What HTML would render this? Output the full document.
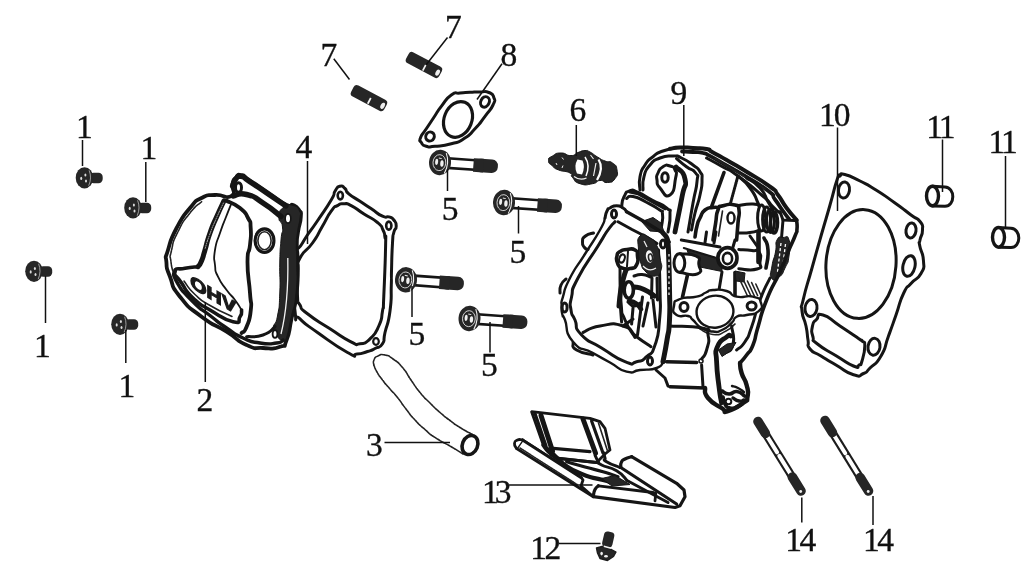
<!DOCTYPE html>
<html>
<head>
<meta charset="utf-8">
<title>Cylinder head assembly</title>
<style>
html,body{margin:0;padding:0;background:#fff;}
body{width:1028px;height:585px;overflow:hidden;font-family:"Liberation Serif",serif;}
svg{display:block;position:absolute;left:0;top:0;filter:grayscale(1);}
.o{fill:none;stroke:#151515;stroke-width:3;stroke-linecap:round;stroke-linejoin:round;}
.w{fill:#fff;stroke:#151515;stroke-width:3;stroke-linecap:round;stroke-linejoin:round;}
.t{fill:none;stroke:#222;stroke-width:1.6;stroke-linecap:round;stroke-linejoin:round;}
.k{fill:none;stroke:#151515;stroke-width:4.2;stroke-linecap:round;stroke-linejoin:round;}
.d{fill:#262626;stroke:#151515;stroke-width:1;stroke-linejoin:round;}
.l{fill:none;stroke:#111;stroke-width:1.5;}
.n{font-family:"Liberation Serif",serif;font-size:33.5px;fill:#111;stroke:#111;stroke-width:0.35;}
</style>
</head>
<body>
<svg width="1028" height="585" viewBox="0 0 1028 585">
<rect x="0" y="0" width="1028" height="585" fill="#fff"/>
<defs>
  <!-- small flange bolt (item 1): origin = head centre -->
  <g id="b1">
    <rect x="5" y="-4.800" width="13.200" height="10.600" rx="4.200" fill="#262626"/>
    <ellipse cx="0" cy="0.300" rx="8.800" ry="10.600" fill="#262626"/>
    <path d="M4.600 -7.200Q7.600 0.300 4.200 8.200" stroke="#bbb" stroke-width="0.8" fill="none"/>
    <ellipse cx="-3.300" cy="0.900" rx="1" ry="1.700" fill="#ddd"/>
    <ellipse cx="0.900" cy="-2.500" rx="1" ry="1.600" fill="#ddd"/>
    <ellipse cx="1.500" cy="3.600" rx="1" ry="1.500" fill="#ddd"/>
  </g>
  <!-- long flange bolt (item 5): origin = head centre, total length param by use -->
  <g id="b5" transform="rotate(4)">
    <rect x="9" y="-4.700" width="28" height="9.600" fill="#fff" stroke="#151515" stroke-width="2.6"/>
    <rect x="35" y="-6.700" width="23" height="13.600" rx="6" fill="#262626"/>
    <rect x="33.500" y="-6.700" width="10" height="13.600" fill="#262626"/>
    <ellipse cx="0" cy="0" rx="11" ry="12.700" fill="#262626"/>
    <path d="M5.600 -9.800Q10 0 5 10.600" stroke="#f0f0f0" stroke-width="1.100" fill="none"/>
    <ellipse cx="-0.600" cy="0.200" rx="6.400" ry="8" fill="none" stroke="#ddd" stroke-width="0.9"/>
    <ellipse cx="-3.400" cy="-0.400" rx="1.500" ry="3.100" fill="#f0f0f0"/>
    <ellipse cx="2" cy="0.800" rx="1.700" ry="3.300" fill="#f0f0f0"/>
    <path d="M-1.500 -4.500L1.500 -4" stroke="#eee" stroke-width="1" fill="none"/>
  </g>
</defs>

<!-- item 4 gasket -->
<path class="w" d="M340 186.2C343.3 185.3 342.1 186 345 188.5C347.9 191 343.8 189.6 348.8 193.8C353.8 198 352.6 196.3 360 201.2C367.4 206.1 363.5 203.6 371 208.6C378.5 213.6 376.6 213.4 382.5 216.2C388.4 219 385 215.6 388.8 216.9C392.6 218.2 391.3 216.9 393.8 220C396.3 223.1 396.2 222 396.2 226.2C396.2 230.4 395 226.9 393.8 232.5C392.6 238.1 393.3 230.2 392.5 243C391.7 255.8 391.9 257 391.5 271C391.1 285 391.8 271.7 391.3 285C390.8 298.3 392.1 295.2 390 311C387.9 326.8 387.5 321.6 385 332.5C382.5 343.4 385.8 338.5 382.5 343.8C379.2 349.1 380 345.9 375 348.5C370 351.1 373.5 349.7 367.5 351.5C361.5 353.3 363.7 353.7 357 354C350.3 354.3 360.7 359.7 347.5 352.5C334.3 345.3 333.3 343.7 317.5 332.5C301.7 321.3 307.5 326 300 318.8C292.5 311.6 297.3 329.9 295 311C292.7 292.1 290.5 284.7 293 262C295.5 239.3 294.5 256.5 302.5 243C310.5 229.5 307.4 235.8 317 221.5C326.6 207.2 325.2 210.1 331.2 200C337.2 189.9 332.1 195.8 335 191.2C337.9 186.6 336.7 187.1 340 186.2Z"/>
<path class="o" d="M337.5 205.6C341.7 203.1 339.2 203.8 343.8 203.8C348.4 203.8 344.5 202.2 351.2 205.6C357.9 209 355.2 208.4 364 214C372.8 219.6 371.2 217.2 377.5 222.5C383.8 227.8 380.5 225 383 230C385.5 235 384.1 232.2 385 237.5C385.9 242.8 386 226.5 385.6 246C385.2 265.5 384.8 274.3 383.8 296C382.8 317.7 384.2 301 382.5 311C380.8 321 383 316.7 378.8 326C374.6 335.3 376.3 332.9 370 338.8C363.7 344.7 366.7 343 360 343.8C353.3 344.6 360 346.3 350 341.3C340 336.3 344.2 338 330 328.8C315.8 319.6 317.5 321.7 307.5 313.8C297.5 305.9 303.3 310.9 300 305C296.7 299.1 298.2 307.3 297.5 296C296.8 284.7 297.2 283.7 298 271C298.8 258.3 295.2 267.3 300 258C304.8 248.7 305.2 253.3 312.5 243C319.8 232.7 315.8 237.6 322 227C328.2 216.4 326 218.3 331.2 211.2C336.4 204.1 333.3 208.1 337.5 205.6Z"/>
<ellipse class="o" cx="340.3" cy="195.6" rx="2.6" ry="3.8" style="stroke-width:2.6"/>
<ellipse class="o" cx="388.8" cy="225.6" rx="2.6" ry="4" style="stroke-width:2.6"/>
<ellipse class="o" cx="376" cy="341.5" rx="2.8" ry="3.4" style="stroke-width:2.2"/>
<!-- item 2 valve cover -->
<path class="w" d="M231.5 196C237.3 192.3 231 190.2 232.5 184C234 177.8 233 180.5 236 177.5C239 174.5 236.8 174 241.5 175C246.2 176 241.2 174.7 250 180.5C258.8 186.3 255.8 184.3 268 192.5C280.2 200.7 278.2 200.8 286.5 205C294.8 209.2 288.8 203.3 293 205C297.2 206.7 296.4 206 299 210C301.6 214 301.1 209.7 300.8 217C300.5 224.3 299.3 222.7 298 232C296.7 241.3 297 235 296.8 245C296.6 255 297.6 246 297.5 262C297.4 278 298.6 274.3 296.6 293C294.6 311.7 294.9 302.3 291.6 318C288.3 333.7 290.5 330.4 286.6 340C282.7 349.6 287.9 344 280 346.7C272.1 349.4 274.1 348.6 263 348C251.9 347.4 258.7 350.4 246.6 345C234.5 339.6 241.6 341.1 226.6 331.7C211.6 322.3 217.1 328.4 201.6 316.7C186.1 305 190.5 310 180 296.7C169.5 283.4 174.5 288.3 170 276.7C165.5 265.1 167.1 270.9 166.4 262C165.7 253.1 164.6 261.3 168 250C171.4 238.7 169.3 242 176.6 228C183.9 214 181.7 218 190 208C198.3 198 193.3 202.3 201.6 198C209.9 193.7 205 195.7 215 195C225 194.3 225.7 199.7 231.5 196Z" style="stroke-width:3.8"/>
<path class="d" d="M284 207C288.7 203.2 287.8 204.2 293 205.5C298.2 206.8 297.2 206.8 299.5 211C301.8 215.2 300.7 211 300 218C299.3 225 298.7 223 297.5 232C296.3 241 296.5 235 296.3 245C296.1 255 296.9 246 296.8 262C296.7 278 297.9 274.3 296 293C294.1 311.7 294.3 302.7 291 318C287.7 333.3 288.7 331.3 286 339C283.3 346.7 286 342 283 341C280 340 280.2 340.3 277 336C273.8 331.7 273.3 334.7 273.5 328C273.7 321.3 275.4 327.7 277.5 316C279.6 304.3 279 311 279.8 293C280.6 275 279.4 279.7 279.8 262C280.2 244.3 280.1 251.7 281 240C281.9 228.3 283.2 234.7 282.5 227C281.8 219.3 278.5 223.7 279 217C279.5 210.3 279.3 210.8 284 207Z"/>
<path d="M287.800 258C288.400 290 286.500 312 281 334" stroke="#f4f4f4" stroke-width="1.300" fill="none"/>
<path class="o" d="M233 196C237.5 195.5 236.6 192.2 246.6 194.5C256.6 196.8 251.5 195.7 263 203C274.5 210.3 275 212 281 216.5" style="stroke-width:5.4"/>
<path class="o" d="M232.5 186C233.5 183.8 232.7 182.7 235.5 179.5C238.3 176.3 236.3 175.8 241 176.5C245.7 177.2 240.7 175.8 249.5 181.5C258.3 187.2 255.3 185.4 267.5 193.6C279.7 201.8 279.8 201.9 286 206" style="stroke-width:5.2"/>
<path class="t" d="M201.6 201.7C197.7 205.5 197.9 203 190 213C182.1 223 184.1 219.4 178 231.7C171.9 244 173.9 239.9 171.6 250C169.3 260.1 170 253.3 171 262C172 270.7 173.3 271.3 174.5 276" stroke-dasharray="2 0.8"/>
<path class="o" d="M224 200.8C221.7 205.9 221.7 205.3 217 216C212.3 226.7 214 221.7 210 233C206 244.3 207.8 240.7 205 250C202.2 259.3 203.8 255.4 201.5 261C199.2 266.6 199.2 264.8 198 266.7" style="stroke-width:5"/>
<path class="t" d="M223.5 203C221 208.3 220.7 208.3 216 219C211.3 229.7 213.2 225 209.5 235C205.8 245 206.5 244.3 205 249" style="stroke:#ddd;stroke-width:0.8" stroke-dasharray="1 1.4"/>
<path class="o" d="M231.6 203C229.7 207.7 229.9 207 226 217C222.1 227 223.7 222 220 233C216.3 244 216.7 239.3 215 250C213.3 260.7 214 256.1 215 265C216 273.9 214.1 268.4 218 276.7C221.9 285 220.9 282.2 226.6 290C232.3 297.8 230 293.3 235 300C240 306.7 239.4 306.7 241.6 310" style="stroke-width:1.8"/>
<path class="o" d="M226.6 200.8C231.1 203.2 232.9 202.3 240 208C247.1 213.7 244.4 211.3 248 218C251.6 224.7 250 219 250.7 228C251.4 237 251.1 233.7 250 245C248.9 256.3 247.5 246 247.5 262C247.5 278 248.9 277 250 293C251.1 309 251.9 298.8 250.8 310C249.7 321.2 249.7 319 246.6 326.7C243.5 334.4 243.3 330.9 241.6 333" style="stroke-width:3.8"/>
<path class="o" d="M175 270C175.5 273.9 170.6 271.1 176.6 281.7C182.6 292.3 181.9 290.4 193 301.7C204.1 313 198.8 306.7 210 315.5C221.2 324.3 215.6 320.5 226.6 328C237.6 335.5 231.9 333 243 338C254.1 343 248.8 341.3 260 343C271.2 344.7 268.9 344 276.6 343C284.3 342 280.9 341 283 340" style="stroke-width:3.4"/>
<path class="o" d="M246.6 336.7C252.1 336.1 253.5 338.3 263 335C272.5 331.7 271 329.5 275 326.7" style="stroke-width:3"/>
<path class="o" d="M198 266.7C193.7 267.2 192.7 266.6 185 268.3C177.3 270 176.1 266.8 175 271.7C173.9 276.6 175.6 274.2 181.6 283C187.6 291.8 183.5 289 193 298C202.5 307 196.7 302.1 210 310C223.3 317.9 223 319.5 233 321.7C243 323.9 237.1 320.6 240 316.7C242.9 312.8 241.1 312.2 241.6 310" style="stroke-width:3.6"/>
<path class="t" d="M184 281C187.7 285.5 186 286.2 195 294.5C204 302.8 198.7 298.7 211 306C223.3 313.3 225 313 232 316.5"/>
<text transform="translate(213 294.5) skewY(31) scale(1.2 1)" text-anchor="middle" y="6" style="font-family:'Liberation Sans',sans-serif;font-weight:bold;font-size:17.5px;fill:#1a1a1a;stroke:#1a1a1a;stroke-width:1.3">OHV</text>
<ellipse class="o" cx="264.5" cy="240.7" rx="9.4" ry="11.8" style="stroke-width:3.2"/>
<ellipse class="t" cx="264.5" cy="240.7" rx="6.6" ry="9"/>
<ellipse class="o" cx="238.5" cy="187.5" rx="3" ry="4.8"/>
<ellipse class="w" cx="288" cy="218.5" rx="2.8" ry="4.6" style="stroke-width:1.6"/>
<ellipse class="w" cx="275" cy="334" rx="2.4" ry="3.8" style="stroke-width:1.8"/>
<!-- item 7 studs -->
<g transform="translate(369 98.2) rotate(28)">
<rect x="-18.8" y="-6.2" width="37.5" height="12.4" rx="3.6" fill="#262626"/>
<path d="M1.500 -1V5.500" stroke="#f4f4f4" stroke-width="1.7" fill="none"/>
<ellipse cx="15.6" cy="0.300" rx="2" ry="3.300" fill="#eee"/>
</g>
<g transform="translate(424 65) rotate(28)">
<rect x="-18.8" y="-6.2" width="37.5" height="12.4" rx="3.6" fill="#262626"/>
<path d="M1.500 -1V5.500" stroke="#f4f4f4" stroke-width="1.7" fill="none"/>
<ellipse cx="15.6" cy="0.300" rx="2" ry="3.300" fill="#eee"/>
</g>
<!-- item 8 -->
<path class="w" d="M451.3 95C457.5 90.6 453.8 93.9 460 93C466.2 92.1 463.3 92.7 470 92.3C476.7 91.9 473.7 91.8 480 91.9C486.3 92 484.2 90.6 488.8 92.5C493.4 94.4 492.4 93.3 493.8 97.5C495.2 101.7 495.9 98.7 493 105C490.1 111.3 491 108.4 485 116.3C479 124.2 482.1 121.3 475 128.8C467.9 136.3 471.7 133.8 463.8 138.8C455.9 143.8 460.9 141.3 451.3 143.8C441.7 146.3 443.3 145.5 435 146.3C426.7 147.1 430.9 147.6 426.3 146.3C421.7 145 423.2 145.4 421.3 142.5C419.4 139.6 418.9 142.1 420.6 137.5C422.3 132.9 421.9 135.5 426.3 128.8C430.7 122.1 428.8 125 433.8 117.5C438.8 110 435.5 113.8 441.3 106.3C447.1 98.8 445.1 99.4 451.3 95Z"/>
<ellipse class="o" cx="458" cy="119.4" rx="13.8" ry="18.4" transform="rotate(22 458 119.4)" style="stroke-width:3.2"/>
<ellipse class="o" cx="485" cy="101.9" rx="4.2" ry="5.4" transform="rotate(25 485 101.9)" style="stroke-width:3"/>
<ellipse class="o" cx="430" cy="136.5" rx="4.2" ry="4.6" transform="rotate(25 430 136.5)" style="stroke-width:3"/>
<!-- item 6 -->
<path class="d" d="M548.5 160.6C548.5 157.3 548.3 158.5 552.5 156C556.7 153.5 554.8 153.1 561 153C567.2 152.9 565.3 155.8 571 155.6C576.7 155.4 573.3 154.2 578 152.5C582.7 150.8 581 150.8 585 150.6C589 150.4 585.8 149.9 590 152C594.2 154.1 592.5 154 597.5 157C602.5 160 600 159 605 161C610 163 608.5 160 612.5 163C616.5 166 616.2 164.8 617 170C617.8 175.2 618.2 174.5 615 178.7C611.8 182.9 612.5 181.9 607.5 182.5C602.5 183.1 605 180.1 600 180.5C595 180.9 599.2 182.6 592.5 183.7C585.8 184.8 586.7 185.8 580 183.7C573.3 181.6 575.8 181.1 572.5 177.5C569.2 173.9 574.6 175.5 570 173C565.4 170.5 564.5 172.3 558.7 170C552.9 167.7 555.9 169.1 552.5 166C549.1 162.9 548.5 163.9 548.5 160.6Z"/>
<path d="M577.500 159.500Q573.500 166 577 173.500L582 174.500Q585.500 167 582.500 160.500Z" fill="#fff"/>
<path d="M585 157Q590.500 165 586 176" stroke="#fff" stroke-width="1.5" fill="none"/>
<path d="M574 176.500Q580 181 586.500 178" stroke="#eee" stroke-width="1.2" fill="none"/>
<path d="M596 163L593.500 176" stroke="#eee" stroke-width="1.2" fill="none"/>
<path d="M598.500 159.500Q604 168 597 180" stroke="#fff" stroke-width="2.2" fill="none"/>
<path d="M590.500 155L593.500 159" stroke="#eee" stroke-width="1.1" fill="none"/>
<path d="M562 157.500L563.500 159.500M556 163L557 165M563 165.500L562 168" stroke="#eee" stroke-width="1" fill="none"/>
<!-- item 11 -->
<path class="w" d="M932.5 186.3L945 187C950 187.3 952.8 192 952.8 196.7C952.8 201.6 950 206.3 945 206.3L932.5 206"/>
<ellipse class="w" cx="932.5" cy="196" rx="6" ry="9.8" style="stroke-width:3.4"/>
<path class="w" d="M998.5 227.6L1011 228.3C1016 228.6 1018.8 233.3 1018.8 238C1018.8 242.9 1016 247.6 1011 247.6L998.5 247.3"/>
<ellipse class="w" cx="998.5" cy="237.3" rx="6" ry="9.8" style="stroke-width:3.4"/>
<!-- item 10 -->
<path class="w" d="M844.8 174.5C851.5 176.2 849.6 175.8 860 181C870.4 186.2 864.3 182.7 876 190C887.7 197.3 883.3 194.7 895 203C906.7 211.3 902.7 208.8 911 215C919.3 221.2 916.2 216.5 920 221.5C923.8 226.5 922.5 223.8 922.5 230C922.5 236.2 920.9 234.7 920 240C919.1 245.3 918.6 239 919.8 246C921 253 923.1 251.8 923.5 261C923.9 270.2 925.2 266 921 273.5C916.8 281 916.8 276.8 911 283.5C905.2 290.2 908.5 283 903.5 293.5C898.5 304 901 300.8 896 315C891 329.2 893.5 322.3 888.5 336C883.5 349.7 887.2 345.3 881 356C874.8 366.7 875.8 362.2 870 368C864.2 373.8 869 371.2 863.5 373.5C858 375.8 862.7 377.6 853.5 374.8C844.3 372 846.8 371.3 836 365C825.2 358.7 829.7 361.3 821 356C812.3 350.7 814.3 354.3 810 349C805.7 343.7 809.3 347.7 808 340C806.7 332.3 808 335.7 806 326C804 316.3 802.8 320.2 802 311C801.2 301.8 800.2 312.8 803.5 298.5C806.8 284.2 806.2 288.8 812 268C817.8 247.2 815 257 821 236C827 215 824.7 223.7 830 205C835.3 186.3 833.7 189.7 837 180C840.3 170.3 837.4 177.8 840 176C842.6 174.2 838.1 172.8 844.8 174.5Z"/>
<ellipse class="o" cx="861" cy="264" rx="35" ry="54.5" transform="rotate(4 861 264)"/>
<ellipse class="o" cx="844" cy="190" rx="5.5" ry="8" transform="rotate(8 844 190)"/>
<ellipse class="o" cx="911" cy="230.5" rx="5" ry="7.5" transform="rotate(8 911 230.5)"/>
<ellipse class="o" cx="909" cy="266" rx="6" ry="10.5" transform="rotate(12 909 266)"/>
<ellipse class="o" cx="811" cy="308" rx="6" ry="8.5" transform="rotate(8 811 308)"/>
<ellipse class="o" cx="874" cy="346.8" rx="6" ry="8.5" transform="rotate(8 874 346.8)"/>
<path class="o" d="M823 315C815.2 312.8 820 315.8 816.5 319.5C813 323.2 813.7 320.2 812.5 326C811.3 331.8 811.3 331 813 337C814.7 343 809.7 337.7 817.5 344C825.3 350.3 824.5 348.7 836.5 356C848.5 363.3 846 363 853.5 366C861 369 856.2 366.7 859 365C861.8 363.3 860.1 367.3 862 361C863.9 354.7 864.8 352.7 864.8 346C864.8 339.3 864.1 343.5 862 341C859.9 338.5 865.8 343.5 858.5 338.5C851.2 333.5 851.8 333.8 840 326C828.2 318.2 830.8 317.2 823 315Z"/>
<!-- item 3 -->
<path class="t" d="M373.8 365C373.9 363.3 372.6 363 374 360C375.4 357 374.3 357.7 378 356C381.7 354.3 380 354 385 355C390 356 387.2 354.8 393 359C398.8 363.2 396.5 360.5 402.5 367.5C408.5 374.5 405.2 371.7 411 380C416.8 388.3 413.7 384.8 420 392.5C426.3 400.2 423.3 396.3 430 403C436.7 409.7 433.3 406.7 440 412.5C446.7 418.3 443.3 415.5 450 420.5C456.7 425.5 452.5 422.8 460 427.5C467.5 432.2 468.3 432.2 472.5 434.5" stroke-dasharray="2.2 0.8"/>
<path class="t" d="M373.8 365C374.9 367.3 374.1 367 377 372C379.9 377 378.2 374.3 382.5 380C386.8 385.7 385 383.2 390 389C395 394.8 392.2 390.8 397.5 397.5C402.8 404.2 400.2 401.5 406 409C411.8 416.5 408.7 413.2 415 420C421.3 426.8 418.3 423.7 425 429.5C431.7 435.3 425.8 431.5 435 437.5C444.2 443.5 443.2 442 452.5 447.5C461.8 453 459.5 451.8 463 454" stroke-dasharray="2.2 0.8"/>
<ellipse class="w" cx="470" cy="445" rx="7.6" ry="9.8" transform="rotate(22 470 445)" style="stroke-width:3.6"/>
<!-- item 13 -->
<path class="w" d="M531.6 411.7L590 418.3L600 421.7L605 428.3L610 450L605 454L596.6 462.5L558.3 458.3L551 451L543.3 445Z" style="stroke-width:2.8"/>
<path class="o" d="M535 413.5L546 446" style="stroke-width:3.2"/>
<path class="o" d="M541 415.5L552.5 451" style="stroke-width:5"/>
<path class="o" d="M583 419L595.5 453" style="stroke-width:5"/>
<path class="o" d="M591.6 421L603 453" style="stroke-width:3.2"/>
<path class="t" d="M598.5 423L607.5 451"/>
<path class="o" d="M553.3 448.3L590 451.7" style="stroke-width:3.2"/>
<path class="o" d="M558.3 458.3L596.6 462.5" style="stroke-width:3.2"/>
<path class="o" d="M522.5 440 L581.6 478"/>
<path class="w" d="M522.5 440L581.6 478L583 480L581 486L593.3 496.7L516.6 448.5Z" style="stroke-width:2.8"/>
<path class="w" d="M516.6 448.5C515.9 446.8 514.2 446.3 514.5 443.5C514.8 440.7 514.8 441.2 517.5 440C520.2 438.8 520.8 440 522.5 440" style="stroke-width:2.8"/>
<path class="t" d="M520 448L577 484.5" stroke-dasharray="2 0.8"/>
<path class="o" d="M543.3 445C545.2 447.3 544.6 447.7 549 452C553.4 456.3 547.4 451.4 556.6 458C565.8 464.6 561.1 464.4 576.6 471.7C592.1 479 587.5 476.2 603 480C618.5 483.8 616.3 482 623 483" style="stroke-width:4.2"/>
<path class="o" d="M566.6 461.7C572.7 463.5 572.9 463.7 585 467C597.1 470.3 592 468.5 603 471.7C614 474.9 613 475 618 476.7" style="stroke-width:3.2"/>
<path class="o" d="M595 455C596 457 595.8 457.7 598 461C600.2 464.3 595.4 461.7 601.6 465C607.8 468.3 608.3 465.8 616.6 470.8C624.9 475.8 623.3 476.9 626.6 480"/>
<path class="o" d="M604 453C604.3 454.7 604.1 455.1 605 458C605.9 460.9 601.6 458.5 606.6 461.7C611.6 464.9 615.5 465.6 620 467.5"/>
<path class="d" d="M601.6 478.5L615 475.5L630 484.5L612 486Z"/>
<path class="o" d="M620.8 467C621 465.3 620.1 464.7 621.5 462C622.9 459.3 621.6 460.8 625 459C628.4 457.2 629.4 457.5 631.6 456.7" style="stroke-width:3.2"/>
<path class="o" d="M631.6 456.7L676.6 483.3L684 490L685 496.7L680 505.8L675 507.5L593.3 496.7" style="stroke-width:3.2"/>
<path class="o" d="M620.8 467.5L676.6 504" style="stroke-width:3.2"/>
<path class="o" d="M627 480.5L668 502.5"/>
<path class="o" d="M593.3 496C593.9 493.8 593.3 492.9 595 489.5C596.7 486.1 597.2 487 598.3 485.8" style="stroke-width:3.2"/>
<path class="o" d="M598.3 485.8L653.3 492.5L655.8 493.3L655 500.8" style="stroke-width:2.8"/>
<!-- item 12 -->
<rect x="-5.200" y="-7.500" width="10.400" height="15.500" rx="3.600" fill="#262626" transform="translate(608.300 539.200) rotate(13)"/>
<path d="M596.500 548L603 546.300L610 548.800L616 552L613.500 556.500L607.500 560.500L600 558.500L597.500 553Z" fill="#262626" stroke="#1c1c1c" stroke-width="1.400" stroke-linejoin="round"/>
<path d="M603.800 546.300L611 548.300" stroke="#f4f4f4" stroke-width="1.500" fill="none"/>
<ellipse cx="601.600" cy="553.600" rx="1.300" ry="1.800" fill="#f0f0f0"/>
<ellipse cx="606" cy="556.200" rx="1.900" ry="1.200" fill="#f0f0f0"/>
<!-- item 14 -->
<path d="M765.3 433.3L792.4 477.1" stroke="#1c1c1c" stroke-width="8.2" stroke-linecap="butt" fill="none"/>
<path d="M766.8 435.7L777.1 452.4M779.3 455.9L791.1 475" stroke="#fff" stroke-width="4" stroke-linecap="round" fill="none"/>
<path d="M758 421.5L765.3 433.3M792.4 477.1L801 491" stroke="#262626" stroke-width="9.6" stroke-linecap="round" fill="none"/>
<circle cx="800.7" cy="491.5" r="1.4" fill="#eee"/>
<path d="M832.4 432.5L860.2 477.6" stroke="#1c1c1c" stroke-width="8.2" stroke-linecap="butt" fill="none"/>
<path d="M833.9 435L845.2 453.3M847.4 456.8L858.9 475.5" stroke="#fff" stroke-width="4" stroke-linecap="round" fill="none"/>
<path d="M825 420.5L832.4 432.5M860.2 477.6L868.5 491" stroke="#262626" stroke-width="9.6" stroke-linecap="round" fill="none"/>
<circle cx="868.2" cy="491.5" r="1.4" fill="#eee"/>
<!-- bolts -->
<use href="#b1" x="84.5" y="177.5"/>
<use href="#b1" x="133" y="207.5"/>
<use href="#b1" x="34" y="271"/>
<use href="#b1" x="120" y="324"/>
<use href="#b5" x="440" y="162.5"/>
<use href="#b5" x="504" y="202.5"/>
<use href="#b5" x="406" y="279.8"/>
<use href="#b5" x="469.5" y="318.5"/>
<!-- item 9 cylinder head -->
<g style="stroke-width:3.1">
<path class="o" d="M640 190C640 185.6 638.3 185 640 176.7C641.7 168.4 640.7 171.7 645 165C649.3 158.3 647 161.4 653 156.7C659 152 655.2 154 663 151C670.8 148 672 148.9 676.5 147.8"/>
<path class="o" d="M670 148.8C673.3 148.4 672.3 147.9 680 147.6C687.7 147.3 684.2 147.5 693 148C701.8 148.5 699.8 147.5 706.5 149C713.2 150.5 705.2 148.2 713 152.5C720.8 156.8 718.8 155.6 730 162C741.2 168.4 733.3 163.5 746.6 171.7C759.9 179.9 759.5 178.9 770 186.7C780.5 194.5 772.5 187.9 778 195C783.5 202.1 780.4 199.7 786.6 208C792.8 216.3 793.3 216 796.6 220" style="stroke-width:4"/>
<path class="o" d="M682 151.5C685.7 151.7 686 151.5 693 152C700 152.5 697.1 151.5 703 153C708.9 154.5 702.6 152.1 710.8 156.4C719 160.7 716.3 159.6 727.5 166C738.7 172.4 731 167.4 744.4 175.6C757.8 183.8 757.6 182.6 767.8 190.6C778 198.6 769.9 192.7 775 199.5C780.1 206.3 778.3 204.5 783 211C787.7 217.5 787 216.3 789 219" style="stroke-width:3.8"/>
<path class="o" d="M706.6 158C711.7 160.8 711.5 160.5 722 166.5C732.5 172.5 724.8 166.5 738 176C751.2 185.5 749.9 184.8 761.6 195C773.3 205.2 766.9 200.7 773 206.7C779.1 212.7 777.7 210.9 780 213"/>
<path class="t" d="M715 158.5L765 189"/>
<path class="o" d="M738 176C742 180 743.3 179 750 188C756.7 197 754.1 194.7 758 203C761.9 211.3 760.4 209.7 761.6 213"/>
<path class="o" d="M746.6 178C751.1 181.3 752.9 180.1 760 188C767.1 195.9 763.7 194.4 768 201.7C772.3 209 771.3 207.2 773 210"/>
<path class="o" d="M780 211.7L783 220L795 220.5"/>
<path class="o" d="M783 220L781.6 237"/>
<path class="o" d="M643 190C643.3 185.6 641.7 185 644 176.7C646.3 168.4 644.7 171.2 650 165C655.3 158.8 652.3 161 660 158C667.7 155 665.8 156 673 156C680.2 156 674.8 155 681.5 158C688.2 161 686.8 160.4 693 165C699.2 169.6 697 166.7 700 171.7C703 176.7 702 172.2 702 180C702 187.8 702.3 184 700 195C697.7 206 697.8 201.3 695 213C692.2 224.7 692.7 224.3 691.5 230"/>
<path class="o" d="M676.5 158.5C679.8 161.2 680.1 161.9 686.5 166.7C692.9 171.5 692.1 168 695.6 173C699.1 178 697.9 171.7 697 181.7C696.1 191.7 696 186.2 693 203C690 219.8 689.7 222.3 688 232"/>
<path class="w" d="M658 173C660 168.6 659 169 663 166.7C667 164.4 666 164.9 670 166C674 167.1 673.1 166 675 170C676.9 174 677.3 169.7 675.6 178C673.9 186.3 675.2 191.7 670 195C664.8 198.3 664.3 193 660 188C655.7 183 657.7 185 657 180C656.3 175 656 177.4 658 173Z"/>
<ellipse class="o" cx="665" cy="177.5" rx="3.2" ry="4.8"/>
<path class="o" d="M676 167C679 171 683 169 685 179C687 189 685.3 179.3 682 197C678.7 214.7 677.3 220.3 675 232" style="stroke-width:4.8"/>
<path class="o" d="M621.6 206.7C622.4 203.4 621.2 202 624 196.7C626.8 191.4 625.3 192.2 630 190.8C634.7 189.4 630.7 189.4 638 192.5C645.3 195.6 642.5 194.8 652 200C661.5 205.2 660.5 203 666.5 208C672.5 213 669.5 207 670 215C670.5 223 668.7 226.3 668 232"/>
<path class="o" d="M630 191.8L638 193.5L665 208.5" style="stroke-width:3.6"/>
<path class="o" d="M626.6 198.5C628.7 197.8 626.5 195.3 633 196.5C639.5 197.7 637.3 197.7 646 202C654.7 206.3 653.5 205.5 659 209.5C664.5 213.5 661.6 208.5 662.5 214C663.4 219.5 661.9 222 661.6 226"/>
<path class="d" d="M641.6 221.6L653 217.5L661 223L664 232L650 231Z"/>
<path class="o" d="M605 218C605.7 215.7 605.3 214.3 607 211C608.7 207.7 606.8 209.7 610 208C613.2 206.3 612.3 205.8 616.6 205.8C620.9 205.8 619.7 206 623 208C626.3 210 625.4 210.5 626.6 211.7"/>
<ellipse class="o" cx="614" cy="214" rx="2.5" ry="4"/>
<path class="o" d="M626.6 211.7L645 222L663 233" style="stroke-width:3.6"/>
<path class="o" d="M618 221.7L632 229.5L646.6 237L657 243.5"/>
<path class="o" d="M605 218C603.3 222 606.7 218 600 230C593.3 242 595 238 585 254C575 270 577.3 263.8 570 278C562.7 292.2 565.8 287.4 563 296.7C560.2 306 561.8 299.9 561.6 306C561.4 312.1 561.4 310.3 562.5 315C563.6 319.7 561.5 311.1 565 320C568.5 328.9 563.7 330.7 573 341.7C582.3 352.7 580.7 346.1 593 353C605.3 359.9 598.8 356.3 610 362.5C621.2 368.7 616.6 369.2 626.6 371.7C636.6 374.2 630 371.2 640 370C650 368.8 648.9 370.8 656.6 368C664.3 365.2 660.9 363.8 663 361.7" style="stroke-width:2.4"/>
<path class="o" d="M663 233C664.5 235.3 665.7 233.7 667.5 240C669.3 246.3 667.8 235.3 668.5 252C669.2 268.7 669.2 267.3 669.5 290C669.8 312.7 670.3 303.3 669.5 320C668.7 336.7 669.2 326.1 667 340C664.8 353.9 664.3 354.5 663 361.7" style="stroke-width:5"/>
<path class="o" d="M615 221.7C612.7 224.5 613.7 221.9 608 230C602.3 238.1 608 230 598 246C588 262 586.8 261.1 578 278C569.2 294.9 573.9 286 571.6 296.7C569.3 307.4 569.9 302.2 571 310C572.1 317.8 571.5 311.7 575 320C578.5 328.3 572.7 325.7 581.6 335C590.5 344.3 587.1 339.1 601.6 348C616.1 356.9 613.3 357.1 625 361.7C636.7 366.3 629.4 363.4 636.6 361.7C643.8 360 640.5 362.3 646.6 356.7C652.7 351.1 650.7 357.2 655 345C659.3 332.8 657.8 338.3 659.5 320C661.2 301.7 660.3 313.3 660 290C659.7 266.7 659 263.3 658.5 250"/>
<ellipse class="o" cx="564.6" cy="307.5" rx="2.5" ry="4.5"/>
<ellipse class="o" cx="663" cy="244" rx="2.5" ry="4"/>
<ellipse class="o" cx="650" cy="361" rx="2.5" ry="4"/>
<path class="o" d="M593.5 233C590.8 234 589.2 233 585.5 236C581.8 239 582.8 238.2 582.5 242C582.2 245.8 582.7 245 584.5 247.5C586.3 250 586.8 248.8 588 249.5"/>
<path class="o" d="M566 279C564.3 281 563 280.3 561 285C559 289.7 560.3 290.3 560 293"/>
<path class="o" d="M573 343C574.2 345.3 569.9 346 576.6 350C583.3 354 587.5 353.3 593 355"/>
<path class="o" d="M583 332.5C588.7 330.3 586.7 328.2 600 326C613.3 323.8 610.8 322.4 623 326C635.2 329.6 627.3 329.8 636.6 336.7C645.9 343.6 646.2 343.4 651 346.7"/>
<path class="o" d="M623 326L633 319"/>
<path class="o" d="M620 268C620.3 279.5 619.3 285.2 621 302.5C622.7 319.8 620.3 308.3 625 320C629.7 331.7 631.7 331.7 635 337.5"/>
<path class="o" d="M642.5 297L637.5 335"/>
<path class="d" d="M640 236C643.8 232 644.3 234.7 650 238C655.7 241.3 653.7 239.3 657 246C660.3 252.7 658.7 250 660 258C661.3 266 662.7 264 661 270C659.3 276 660 275.3 655 276C650 276.7 650.8 276.7 646 272C641.2 267.3 643 269.3 640.5 262C638 254.7 638.7 258.7 638.5 250C638.3 241.3 636.2 240 640 236Z"/>
<ellipse class="o" cx="649.5" cy="256.5" rx="3.6" ry="6.2" transform="rotate(-8 649.5 256.5)" style="fill:#f6f6f6;stroke:none"/>
<ellipse class="o" cx="650.5" cy="257.5" rx="2" ry="3.6" transform="rotate(-8 650.5 257.5)" style="stroke:#262626;stroke-width:1.6"/>
<path d="M643 266Q649 272.500 656 268" stroke="#eee" stroke-width="1.200" fill="none"/>
<path d="M644 241L647 247" stroke="#eee" stroke-width="1.200" fill="none"/>
<path class="w" d="M617 256C617.8 252.2 616.7 253.7 620 251.5C623.3 249.3 622 250 627 249.5C632 249 631.5 247.8 635 250C638.5 252.2 637 251 637.5 256C638 261 639 260.8 636.5 265C634 269.2 634.8 267.5 630 268.5C625.2 269.5 626.2 269.8 622 268C617.8 266.2 619.2 267 617.5 263C615.8 259 616.2 259.8 617 256Z" style="stroke-width:3.6"/>
<ellipse class="o" cx="622" cy="258.5" rx="2.6" ry="4.2" transform="rotate(20 622 258.5)" style="stroke-width:2"/>
<path class="o" d="M628 251.5L627 266.5" style="stroke-width:2"/>
<path class="o" d="M626 270C625 273.3 624.8 272.7 623 280C621.2 287.3 621.8 283.3 620.5 292C619.2 300.7 619.5 301.3 619 306" style="stroke-width:5"/>
<path class="o" d="M634 276C636.7 275.5 636.3 274.2 642 274.5C647.7 274.8 648 276.2 651 277"/>
<path class="o" d="M634.5 287C637.7 287.8 637.3 286.5 644 289.5C650.7 292.5 651 293.8 654.5 296" style="stroke-width:5"/>
<ellipse class="w" cx="628.8" cy="290" rx="4.6" ry="8.2" style="stroke-width:3.6"/>
<path class="o" d="M629 301C631.3 301.8 632 300.8 636 303.5C640 306.2 639.3 307.2 641 309" style="stroke-width:4.600"/>
<path class="o" d="M652 278L651.5 298"/>
<path class="o" d="M657 278L657.5 300"/>
<path class="o" d="M620 301.7L621.6 322"/>
<path class="o" d="M633 308L631.6 324"/>
<path class="o" d="M648 303L643 326"/>
<path class="o" d="M653 300L656 327"/>
<path class="o" d="M628 302C630 303.3 630 305.7 634 306C638 306.3 638 304 640 303"/>
<path d="M669 254V298" stroke="#fff" stroke-width="1.2" stroke-dasharray="2.5 3" fill="none"/>
<path class="o" d="M681.3 240L720 246.9"/>
<path class="d" d="M687 250L715 257.5L722 261.5L722 271.5L700 267L690 258Z"/>
<path class="o" d="M683.8 248L715 257.5" style="stroke-width:2"/>
<path class="w" d="M680 253.8C685.3 254.5 689.7 252.6 696 256C702.3 259.4 698.3 258.1 698.8 264C699.3 269.9 703.8 271 697.5 273.8C691.2 276.6 685.8 272.9 680 272.5"/>
<ellipse class="w" cx="679.4" cy="263" rx="5.4" ry="9.3"/>
<ellipse class="w" cx="727.5" cy="258" rx="9.6" ry="10.3" style="stroke-width:3.8"/>
<ellipse class="w" cx="727.5" cy="258.5" rx="4.6" ry="5.6" style="stroke-width:2.6"/>
<path class="w" d="M738.8 249.4C743.2 249.8 745.3 249.6 752 250.5C758.7 251.4 756.3 248.2 759 252C761.7 255.8 760.7 256.3 760 262C759.3 267.7 764.1 266.7 757 269C749.9 271.3 744.9 268.9 738.8 268.8"/>
<path class="o" d="M758.5 232L758.5 262" style="stroke-width:4.6"/>
<path class="o" d="M735 272.5L735 298" style="stroke-width:3.6"/>
<path class="d" d="M735 271L745 273L744 282L736 281Z"/>
<path class="o" d="M695 237C695.7 233.3 695.3 232.3 697 226C698.7 219.7 697.3 223.3 700 218C702.7 212.7 700.7 213.5 705 210C709.3 206.5 708 208.2 713 207.5C718 206.8 717.7 207.8 720 208" style="stroke-width:3.6"/>
<path class="w" d="M713 240C713.8 234.7 713.8 234 715.5 224C717.2 214 715.5 216.1 718 210C720.5 203.9 717.3 207.5 723 205.8C728.7 204.1 729.7 203.6 735 205C740.3 206.4 738 204 739 210C740 216 738.8 213 738 223C737.2 233 737.1 234.3 736.6 240" style="stroke-width:3.6"/>
<ellipse class="o" cx="731" cy="218" rx="3.5" ry="5.5" style="stroke-width:2.4"/>
<path class="t" d="M722.5 211L718.5 236"/>
<path class="o" d="M736.6 205.8C742.1 205.2 745.2 203.6 753 204C760.8 204.4 757.7 206 760 207"/>
<path class="o" d="M739 233C742.7 232.8 743 233.5 750 232.5C757 231.5 756.7 230.8 760 230"/>
<ellipse class="w" cx="761.6" cy="218" rx="4" ry="13"/>
<ellipse class="o" cx="766.6" cy="219.5" rx="4" ry="12.5"/>
<ellipse class="o" cx="770.5" cy="221" rx="4" ry="11.5"/>
<ellipse class="o" cx="774" cy="222.5" rx="3.5" ry="10.5" style="stroke-width:3.6"/>
<path class="o" d="M724 172.5L711.6 206.7" style="stroke-width:3.6"/>
<path class="o" d="M737.5 177.5L730 205" style="stroke-width:3" stroke-dasharray="1.6 1"/>
<path class="o" d="M687.5 275L682.5 297" style="stroke-width:3.6"/>
<path class="o" d="M716 232L714 243"/>
<path class="o" d="M735 240L733 247"/>
<path class="o" d="M706.5 232L705 242.5"/>
<path class="o" d="M722 272L719 290"/>
<path class="t" d="M739 278L748 297"/>
<path class="t" d="M743.2 279.5L751.2 296.5"/>
<path class="t" d="M747.4 281L754.4 296"/>
<path class="t" d="M751.6 282.5L757.6 295.5"/>
<path class="t" d="M755.8 284L760.8 295"/>
<path class="d" d="M777 240C779.5 235.2 779 237.5 783 237.5C787 237.5 787 233.8 789 240C791 246.2 790.3 246.7 789 256C787.7 265.3 788.3 261 785 268C781.7 275 783.5 273.7 779 277C774.5 280.3 773.8 281.7 771.5 278C769.2 274.3 770.7 274.7 772 266C773.3 257.3 773.8 260.7 775.5 252C777.2 243.3 774.5 244.8 777 240Z"/>
<path d="M781 243L777.500 272M785.500 244L782.500 268" stroke="#fff" stroke-width="1.3" stroke-dasharray="3 2.2" fill="none"/>
<path class="o" d="M764 238C765.3 242 767.3 240 768 250C768.7 260 766.7 262 766 268" style="stroke-width:3.6"/>
<path class="o" d="M750 236 L757 246"/>
<path class="o" d="M796.6 220C796.7 223 797.5 223.7 797 229C796.5 234.3 798 228.3 795 236C792 243.7 793 240.1 788 252C783 263.9 787.1 255.7 780 271.7C772.9 287.7 773.9 281.6 766.6 300C759.3 318.4 762.5 312 758 327C753.5 342 756.8 335.7 753 345C749.2 354.3 750.9 349 746.6 355C742.3 361 742.2 360.3 740 363" style="stroke-width:3.6"/>
<path class="o" d="M740 363C740.5 366.3 739.4 365.7 741.6 373C743.8 380.3 744.6 377.1 746.6 385C748.6 392.9 748.7 390.7 747.5 396.7C746.3 402.7 749.5 398.2 743 403C736.5 407.8 735.1 409.3 728 411C720.9 412.7 728.3 412.3 721.6 408C714.9 403.7 713.5 404.7 708 398C702.5 391.3 706 391.3 705 388" style="stroke-width:4.4"/>
<path class="o" d="M770 278C766.7 285.3 766.1 283.7 760 300C753.9 316.3 756.6 313.1 751.6 327C746.6 340.9 750 334 745 341.7C740 349.4 739.4 347.2 736.6 350"/>
<path class="w" d="M674 306C675.1 300.7 672.5 302.1 680 299C687.5 295.9 687.9 298.9 696.6 296.7C705.3 294.5 700.5 294.7 706 292.5C711.5 290.3 706.1 290.5 713 290C719.9 289.5 718.7 288.8 726.6 291C734.5 293.2 727.8 294.8 736.6 296.7C745.4 298.6 744.9 294.6 753 296.7C761.1 298.8 759.3 298 761 303C762.7 308 762.8 307.7 758 311.7C753.2 315.7 753.7 313.3 746.6 315C739.5 316.7 741.6 314 736.6 316.7C731.6 319.4 736.5 318.6 731.6 323C726.7 327.4 728.2 327.2 722 330C715.8 332.8 719.8 332.2 713 331.5C706.2 330.8 708.3 331.8 701.6 328C694.9 324.2 697.5 324 693 320C688.5 316 693.5 317.7 688 316C682.5 314.3 681.3 318.3 676.6 315C671.9 311.7 672.9 311.3 674 306Z" style="stroke-width:2.4"/>
<ellipse class="o" cx="715" cy="311.7" rx="18.5" ry="16" transform="rotate(-8 715 311.7)" style="stroke-width:2.4"/>
<ellipse class="o" cx="684" cy="307" rx="4" ry="4.5"/>
<ellipse class="o" cx="751.6" cy="306" rx="4.5" ry="4"/>
<path class="t" d="M700 329C704.3 330.8 704.3 333.8 713 334.5C721.7 335.2 718.7 334.5 726 331C733.3 327.5 732 326.3 735 324"/>
<path class="o" d="M666.6 361.7L696.6 362.5" style="stroke-width:3.6"/>
<ellipse class="o" cx="701" cy="361" rx="2" ry="2" style="stroke-width:1.5"/>
<path class="o" d="M701.6 365L703 386.7"/>
<path class="o" d="M670 386.7L705 388" style="stroke-width:3.6"/>
<path class="o" d="M656 370L665 378L668 386"/>
<path class="o" d="M670 326C680.5 326.7 688.9 325 701.6 328C714.3 331 706.3 327.7 708 335C709.7 342.3 708.7 342 706.6 350C704.5 358 703.3 356 701.6 359"/>
<path class="o" d="M731 336C729.5 336.3 731.1 333.4 726.6 337C722.1 340.6 720.8 338.5 717.5 346.7C714.2 354.9 716.1 348.4 716.6 361.7C717.1 375 717.3 372.9 719 386.7C720.7 400.5 720.7 397.6 721.6 403" style="stroke-width:4.8"/>
<path class="o" d="M731.6 326C732.1 332.3 735.2 336 733 345C730.8 354 727.7 350.3 725 353"/>
<path class="d" d="M718.5 350L727 344L736 342.5L731 350.5L722 356.5Z"/>
<path class="o" d="M722 391C724.3 392 724 393.8 729 394C734 394.2 731.8 390.8 737 391.5C742.2 392.2 742 394.5 744.5 396" style="stroke-width:3.6"/>
<path class="o" d="M733 398C735 399 735.3 400.3 739 401C742.7 401.7 742.3 400.3 744 400" style="stroke-width:3.4"/>
<path class="o" d="M723 397C723.7 399.3 722.7 400.3 725 404C727.3 407.7 725.7 407.2 730 408C734.3 408.8 733.7 408.2 738 406.5C742.3 404.8 741.3 404.2 743 403" style="stroke-width:3.6"/>
<ellipse class="o" cx="728.5" cy="401.5" rx="2.8" ry="2.8" style="stroke-width:2"/>
<path class="o" d="M732 386C734 386.7 734 386 738 388C742 390 742 390.7 744 392" style="stroke-width:2.4"/>
</g>
<!-- leaders -->
<g class="l">
<path d="M82.5 140V166"/>
<path d="M145.8 162V202"/>
<path d="M45.5 276V323"/>
<path d="M125.8 330V363"/>
<path d="M205.3 302V382"/>
<path d="M384.5 442.5H450"/>
<path d="M307.5 161V244"/>
<path d="M447.5 169V191"/>
<path d="M518.5 206V233.5"/>
<path d="M412 286V317"/>
<path d="M490 322V352.5"/>
<path d="M576.3 125V156"/>
<path d="M333.8 58.8L349.5 79.5"/>
<path d="M447.5 37.5L426 65"/>
<path d="M502 63.8L477 99.5"/>
<path d="M683.8 105V156"/>
<path d="M837.5 127.5V211"/>
<path d="M942.5 139.5V192"/>
<path d="M1005.5 156V229"/>
<path d="M559 543.500H600.500"/>
<path d="M508.8 485H592.5"/>
<path d="M801.8 497.5V522.5"/>
<path d="M873 496V525"/>
</g>
<!-- labels -->
<g opacity="0.999">
<text class="n" x="76" y="137.5">1</text>
<text class="n" x="140.5" y="159">1</text>
<text class="n" x="34" y="357">1</text>
<text class="n" x="118.5" y="397">1</text>
<text class="n" x="196.5" y="410.5">2</text>
<text class="n" x="366" y="456">3</text>
<text class="n" x="295.5" y="157.5">4</text>
<text class="n" x="441.8" y="220">5</text>
<text class="n" x="509.5" y="263">5</text>
<text class="n" x="408.5" y="344.8">5</text>
<text class="n" x="481" y="376">5</text>
<text class="n" x="569.5" y="120.5">6</text>
<text class="n" x="320.5" y="65.5">7</text>
<text class="n" x="445" y="38">7</text>
<text class="n" x="500.5" y="65.5">8</text>
<text class="n" x="670.5" y="103.8">9</text>
<text class="n" x="819" y="126" letter-spacing="-2">10</text>
<text class="n" x="926.3" y="137.5" letter-spacing="-3">11</text>
<text class="n" x="988.5" y="152.5" letter-spacing="-3">11</text>
<text class="n" x="530.3" y="558.8" letter-spacing="-2.5">12</text>
<text class="n" x="482" y="502.5" letter-spacing="-4">13</text>
<text class="n" x="785.3" y="550.5" letter-spacing="-2.5">14</text>
<text class="n" x="863" y="550.5" letter-spacing="-2.5">14</text>
</g>

</svg>
</body>
</html>
